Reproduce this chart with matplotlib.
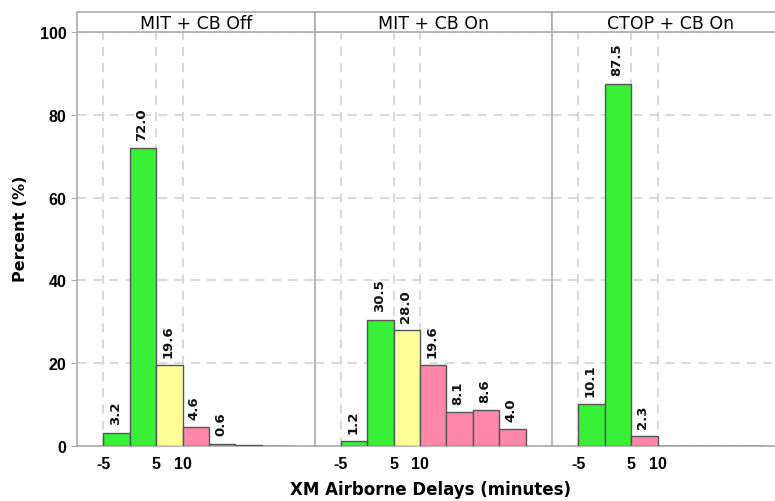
import numpy as np
from matplotlib import pyplot as plt

plt.rcParams["axes.unicode_minus"] = False

# --- data --- #
bin_edges = [-5, 0, 5, 10, 15, 20, 25, 30]
panel_titles = ["MIT + CB Off", "MIT + CB On", "CTOP + CB On"]

mit_cb_off = [3.2, 72.0, 19.6, 4.6, 0.6, 0.2, 0.1]
mit_cb_on = [1.2, 30.5, 28.0, 19.6, 8.1, 8.6, 4.0]
ctop_cb_on = [10.1, 87.5, 2.3, 0.1, 0.1, 0.1, 0.1]

GREEN = "#37f037"
YELLOW = "#ffff99"
PINK = "#ff88aa"

mit_cb_off_colors = [GREEN, GREEN, YELLOW, PINK, PINK, PINK, PINK]
mit_cb_on_colors = [GREEN, GREEN, YELLOW, PINK, PINK, PINK, PINK]
ctop_cb_on_colors = [GREEN, GREEN, PINK, PINK, PINK, PINK, PINK]

x_ticks = [-5, 5, 10]
y_ticks = [0, 20, 40, 60, 80, 100]

panels = [
    (mit_cb_off, mit_cb_off_colors),
    (mit_cb_on, mit_cb_on_colors),
    (ctop_cb_on, ctop_cb_on_colors),
]

W, H = 775, 502
fig = plt.figure(figsize=(W / 100, H / 100), dpi=100)

x0 = 77  # left edge of first panel, px
pw = 237.5  # panel width, px
y_top = 33  # top of plotting area
y_bot = 447  # zero line
head_h = 20

edges = np.array(bin_edges)
lefts = edges[:-1]
widths = np.diff(edges)

for i, (values, colors) in enumerate(panels):
    left = (x0 + i * pw) / W
    ax = fig.add_axes([left, 1 - y_bot / H, pw / W, (y_bot - y_top) / H])

    ax.bar(lefts, values, width=widths, align="edge", color=colors,
           edgecolor="#555555", linewidth=1.0, zorder=3)

    for lx, w, v in zip(lefts, widths, values):
        if v < 0.5:
            continue
        ax.annotate(f"{v:.1f}", (lx + w / 2, v), xytext=(-1, 6),
                    textcoords="offset points", rotation=90,
                    ha="center", va="bottom", fontsize=9.5,
                    fontweight="bold", color="#111111")

    ax.set_xlim(-10, 35)
    ax.set_ylim(0, 100)
    ax.set_xticks(x_ticks)
    ax.set_yticks(y_ticks)
    ax.grid(True, color="#d6d6d6", linestyle=(0, (5, 4)), linewidth=1.3,
            zorder=0)
    ax.set_axisbelow(True)

    for s in ["top", "right"]:
        ax.spines[s].set_visible(False)
    for s in ["left", "bottom"]:
        ax.spines[s].set_color("#aaaaaa")
        ax.spines[s].set_linewidth(1.2)

    ax.tick_params(axis="both", colors="#aaaaaa", length=4,
                   labelcolor="black")
    ax.tick_params(axis="x", length=0, pad=7)
    for lab in ax.get_xticklabels() + ax.get_yticklabels():
        lab.set_fontweight("bold")
        lab.set_fontsize(11.5)
        lab.set_family("Liberation Sans")
    if i > 0:
        ax.tick_params(axis="y", length=0, labelleft=False)

    # header strip
    hax = fig.add_axes([left, 1 - y_top / H, pw / W, head_h / H])
    hax.set_xticks([])
    hax.set_yticks([])
    for s in hax.spines.values():
        s.set_color("#aaaaaa")
        s.set_linewidth(1.2)
    hax.text(0.5, 0.45, panel_titles[i], ha="center", va="center",
             fontsize=12.5, transform=hax.transAxes)

fig.text(21 / W, 1 - 229 / H, "Percent (%)", rotation=90, ha="center",
         va="center", fontsize=11.5, fontweight="bold")
fig.text(431 / W, 1 - 490 / H, "XM Airborne Delays (minutes)", ha="center",
         va="center", fontsize=12, fontweight="bold")

plt.savefig("out.png", dpi=100)
